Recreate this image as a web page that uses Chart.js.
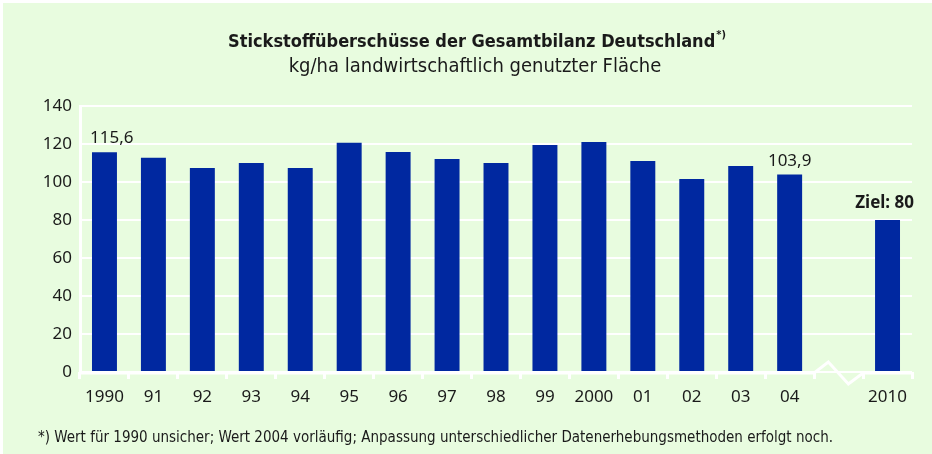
<!DOCTYPE html>
<html lang="de">
<head>
<meta charset="utf-8">
<title>Stickstoffüberschüsse der Gesamtbilanz Deutschland</title>
<script src="https://cdn.jsdelivr.net/npm/chart.js@4/dist/chart.umd.min.js"></script>
<style>
    html, body { margin: 0; padding: 0; background: #fff; }
    canvas { display: block; }
</style>
</head>
<body>
<canvas id="chartStickstoff" width="932" height="454"></canvas>
<script>
// ============================================
// Daten
// ============================================

const jahre = ['1990', '91', '92', '93', '94', '95', '96', '97', '98', '99', '2000', '01', '02', '03', '04', '', '2010'];
const ueberschuss = [115.6, 112.7, 107.4, 110.0, 107.4, 120.6, 115.8, 112.1, 110.0, 119.5, 121.1, 111.1, 101.6, 108.4, 103.9, null, 80];
const wertLabels = ['115,6', null, null, null, null, null, null, null, null, null, null, null, null, null, '103,9', null, 'Ziel: 80'];
const yMin = 0;
const yMax = 140;
const yStep = 20;

const titel = 'Stickstoffüberschüsse der Gesamtbilanz Deutschland';
const titelFussnote = '*)';
const untertitel = 'kg/ha landwirtschaftlich genutzter Fläche';
const fussnote = '*) Wert für 1990 unsicher; Wert 2004 vorläufig; Anpassung unterschiedlicher Datenerhebungsmethoden erfolgt noch.';

// Farben
const COLORS = {
    hintergrund: '#e8fcdf',
    balken: '#0028a0',
    text: '#1a1a1a',
    linie: '#ffffff'
};

const FONT_NARROW = '"Liberation Sans Narrow", "DejaVu Sans Condensed", "Noto Sans", sans-serif';
const FONT_ZAHLEN = '"Noto Sans", "Open Sans", sans-serif';

// Lücke zwischen 04 und 2010 (Index der leeren Kategorie)
const luecke = jahre.indexOf('');

// ============================================
// Plugins
// ============================================

// Hintergrund, Titel, Untertitel und Fußnote
const rahmenPlugin = {
    id: 'rahmen',
    beforeDraw(chart) {
        const c = chart.ctx;
        c.save();
        c.fillStyle = COLORS.hintergrund;
        c.fillRect(3, 3, chart.width - 3, chart.height - 3);
        c.restore();
    },
    afterDraw(chart) {
        const c = chart.ctx;
        c.save();
        c.fillStyle = COLORS.text;
        c.textBaseline = 'alphabetic';

        // Titel + hochgestellte Fußnote
        c.font = 'bold 18px ' + FONT_NARROW;
        const wTitel = c.measureText(titel).width;
        c.font = 'bold 11px ' + FONT_NARROW;
        const wHoch = c.measureText(titelFussnote).width;
        const xStart = 477 - (wTitel + wHoch + 1) / 2;
        c.textAlign = 'left';
        c.font = 'bold 18px ' + FONT_NARROW;
        c.fillText(titel, xStart, 47);
        c.font = 'bold 11px ' + FONT_NARROW;
        c.fillText(titelFussnote, xStart + wTitel + 1, 38);

        // Untertitel
        c.textAlign = 'center';
        c.font = '20px ' + FONT_NARROW;
        c.fillText(untertitel, 475, 72);

        // Fußnote
        c.textAlign = 'left';
        c.font = '15px ' + FONT_NARROW;
        c.fillText(fussnote, 38, 442);
        c.restore();
    }
};

// x-Achse mit Achsenbruch (Zickzack) in der Lücke
const achsenbruchPlugin = {
    id: 'achsenbruch',
    afterDatasetsDraw(chart) {
        const c = chart.ctx;
        const area = chart.chartArea;
        const x = chart.scales.x;
        const breite = x.getPixelForValue(1) - x.getPixelForValue(0);
        const b0 = x.getPixelForValue(luecke) - breite / 2;
        const b1 = x.getPixelForValue(luecke) + breite / 2;
        const y = area.bottom + 1;

        c.save();
        c.strokeStyle = COLORS.linie;
        c.lineWidth = 3;
        c.lineJoin = 'miter';
        c.beginPath();
        c.moveTo(area.left, y);
        c.lineTo(b0, y);
        c.lineTo(b0 + breite * 0.29, y - 11);
        c.lineTo(b0 + breite * 0.70, y + 11);
        c.lineTo(b1, y);
        c.lineTo(area.right, y);
        c.stroke();
        c.restore();
    }
};

// Werte über ausgewählten Balken
const wertePlugin = {
    id: 'werte',
    afterDatasetsDraw(chart) {
        const c = chart.ctx;
        const area = chart.chartArea;
        const meta = chart.getDatasetMeta(0);
        c.save();
        c.fillStyle = COLORS.text;
        c.textAlign = 'center';
        c.textBaseline = 'alphabetic';
        meta.data.forEach((bar, i) => {
            const txt = wertLabels[i];
            if (!txt) return;
            const fett = txt.startsWith('Ziel');
            c.font = (fett ? 'bold ' : '') + '17px ' + FONT_ZAHLEN;
            const w = c.measureText(txt).width;
            let xm = bar.x;
            xm = Math.max(xm, area.left + 10 + w / 2);
            xm = Math.min(xm, area.right + 2 - w / 2);
            c.fillText(txt, xm, bar.y - (fett ? 12 : 9));
        });
        c.restore();
    }
};

// ============================================
// Diagramm
// ============================================

function createStickstoffChart(canvasId) {
    const ctx = document.getElementById(canvasId);
    if (!ctx) return null;

    return new Chart(ctx, {
        type: 'bar',
        data: {
            labels: jahre,
            datasets: [{
                label: 'kg/ha',
                data: ueberschuss,
                backgroundColor: COLORS.balken,
                borderWidth: 0,
                categoryPercentage: 1,
                barPercentage: 0.51
            }]
        },
        options: {
            responsive: false,
            animation: false,
            layout: {
                padding: { top: 106, left: 0, right: 20, bottom: 40 }
            },
            plugins: {
                legend: { display: false },
                title: { display: false },
                tooltip: { enabled: false }
            },
            scales: {
                x: {
                    afterFit: scale => { scale.height = 42; },
                    grid: {
                        offset: true,
                        drawOnChartArea: false,
                        drawTicks: true,
                        tickLength: 7,
                        color: COLORS.linie,
                        lineWidth: 3
                    },
                    border: { display: false },
                    ticks: {
                        color: COLORS.text,
                        padding: 8,
                        maxRotation: 0,
                        autoSkip: false,
                        font: { family: FONT_ZAHLEN, size: 17 }
                    }
                },
                y: {
                    min: yMin,
                    max: yMax,
                    afterFit: scale => { scale.width = 80; },
                    grid: {
                        drawTicks: false,
                        color: COLORS.linie,
                        lineWidth: 2
                    },
                    border: { display: true, color: COLORS.linie, width: 3 },
                    ticks: {
                        stepSize: yStep,
                        color: COLORS.text,
                        padding: 8,
                        font: { family: FONT_ZAHLEN, size: 17 }
                    }
                }
            }
        },
        plugins: [rahmenPlugin, wertePlugin, achsenbruchPlugin]
    });
}

createStickstoffChart('chartStickstoff');
</script>
</body>
</html>
